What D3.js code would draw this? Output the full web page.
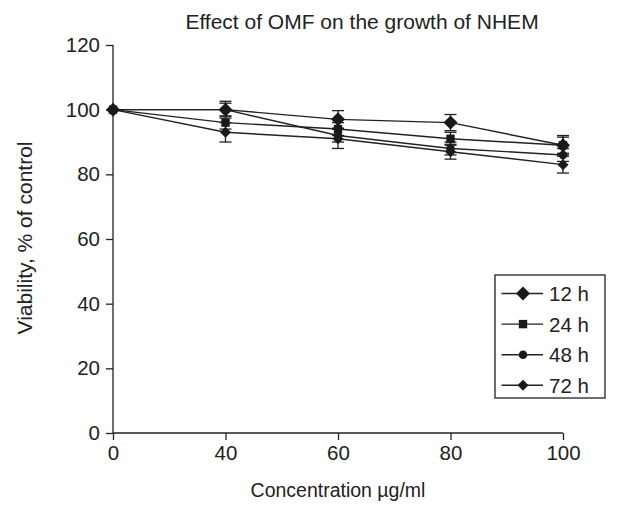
<!DOCTYPE html>
<html>
<head>
<meta charset="utf-8">
<script src="https://cdn.jsdelivr.net/npm/d3@7"></script>
<style>
  body { margin: 0; background: #fff; }
  svg { display: block; font-family: "Liberation Sans", Arial, sans-serif; }
</style>
</head>
<body>
<svg id="chart" width="629" height="506"></svg>
<script>
"use strict";

// Concentrations (ug/ml), plotted as equally spaced categories
var concentrations = ["0", "40", "60", "80", "100"];
var yTicks = [0, 20, 40, 60, 80, 100, 120];

// Viability, % of control
var series_12h = [100, 100, 97, 96, 89];
var series_24h = [100, 96, 94, 91, 89];
var series_48h = [100, 100, 92, 88, 86];
var series_72h = [100, 93, 91, 87, 83];

// Error bar half-widths
var err_12h = [0, 2.6, 2.7, 2.5, 2.5];
var err_24h = [0, 2.0, 2.0, 2.0, 3.0];
var err_48h = [0, 2.0, 2.0, 2.0, 2.0];
var err_72h = [0, 3.0, 3.0, 2.3, 2.6];

var seriesNames = ["12 h", "24 h", "48 h", "72 h"];
var seriesValues = [series_12h, series_24h, series_48h, series_72h];
var seriesErrors = [err_12h, err_24h, err_48h, err_72h];
var seriesMarkers = ["bigdiamond", "square", "circle", "diamond"];

var svg = d3.select("#chart");
var margin = { left: 113, right: 66, top: 45, bottom: 73 };
var width = 629 - margin.left - margin.right;
var height = 506 - margin.top - margin.bottom;

var g = svg.append("g")
    .attr("transform", "translate(" + margin.left + "," + margin.top + ")");

var x = d3.scalePoint().domain(concentrations).range([0, width]);
var y = d3.scaleLinear().domain([0, 120]).range([height, 0]);

// Axes
var xAxis = g.append("g")
    .attr("transform", "translate(0," + height + ")")
    .call(d3.axisBottom(x).tickSize(7).tickPadding(5));
var yAxis = g.append("g")
    .call(d3.axisLeft(y).tickValues(yTicks).tickSize(7).tickPadding(6));

[xAxis, yAxis].forEach(function(a) {
    a.select(".domain").attr("stroke", "#222").attr("stroke-width", 1.3);
    a.selectAll(".tick line").attr("stroke", "#222").attr("stroke-width", 1.3);
    a.selectAll(".tick text").attr("fill", "#222").style("font-size", "20.5px");
});
// no outer ticks on the axis lines
xAxis.select(".domain").attr("d", "M0,0H" + width);
yAxis.select(".domain").attr("d", "M0," + height + "V0");

// Title and axis labels
svg.append("text")
    .attr("x", 362).attr("y", 29)
    .attr("text-anchor", "middle")
    .attr("fill", "#222")
    .style("font-size", "21px")
    .text("Effect of OMF on the growth of NHEM");

svg.append("text")
    .attr("x", margin.left + width / 2).attr("y", 497)
    .attr("text-anchor", "middle")
    .attr("fill", "#222")
    .style("font-size", "19.5px")
    .text("Concentration \u00b5g/ml");

svg.append("text")
    .attr("transform", "translate(32,238) rotate(-90)")
    .attr("text-anchor", "middle")
    .attr("fill", "#222")
    .style("font-size", "21px")
    .text("Viability, % of control");

// Marker drawing
function drawMarker(sel, type) {
    if (type === "bigdiamond") {
        sel.append("path").attr("d", "M0,-7L7,0L0,7L-7,0Z");
    } else if (type === "diamond") {
        sel.append("path").attr("d", "M0,-5.5L5.5,0L0,5.5L-5.5,0Z");
    } else if (type === "square") {
        sel.append("rect").attr("x", -4.2).attr("y", -4.2).attr("width", 8.4).attr("height", 8.4);
    } else {
        sel.append("circle").attr("r", 4.3);
    }
    sel.attr("fill", "#1a1a1a");
}

var line = d3.line()
    .x(function(d, i) { return x(concentrations[i]); })
    .y(function(d) { return y(d); });

// Error bars
seriesValues.forEach(function(vals, s) {
    var eg = g.append("g").attr("stroke", "#222").attr("stroke-width", 1.3);
    vals.forEach(function(v, i) {
        var e = seriesErrors[s][i];
        if (!e) return;
        var cx = x(concentrations[i]);
        eg.append("line").attr("x1", cx).attr("x2", cx).attr("y1", y(v - e)).attr("y2", y(v + e));
        eg.append("line").attr("x1", cx - 6).attr("x2", cx + 6).attr("y1", y(v - e)).attr("y2", y(v - e));
        eg.append("line").attr("x1", cx - 6).attr("x2", cx + 6).attr("y1", y(v + e)).attr("y2", y(v + e));
    });
});

// Lines
seriesValues.forEach(function(vals) {
    g.append("path")
        .datum(vals)
        .attr("fill", "none")
        .attr("stroke", "#222")
        .attr("stroke-width", 1.4)
        .attr("d", line);
});

// Markers
seriesValues.forEach(function(vals, s) {
    vals.forEach(function(v, i) {
        var m = g.append("g")
            .attr("transform", "translate(" + x(concentrations[i]) + "," + y(v) + ")");
        drawMarker(m, seriesMarkers[s]);
    });
});

// Legend
var legend = svg.append("g").attr("transform", "translate(495,275)");
legend.append("rect")
    .attr("width", 110).attr("height", 123)
    .attr("fill", "#fff").attr("stroke", "#222").attr("stroke-width", 1.3);
seriesNames.forEach(function(name, s) {
    var row = legend.append("g").attr("transform", "translate(0," + (18.5 + s * 30.6) + ")");
    row.append("line").attr("x1", 6.5).attr("x2", 48).attr("y1", 0).attr("y2", 0)
        .attr("stroke", "#222").attr("stroke-width", 1.4);
    var m = row.append("g").attr("transform", "translate(28,0)");
    drawMarker(m, seriesMarkers[s]);
    row.append("text")
        .attr("x", 54).attr("y", 7.5)
        .attr("fill", "#222")
        .style("font-size", "20.5px")
        .text(name);
});
</script>
</body>
</html>
